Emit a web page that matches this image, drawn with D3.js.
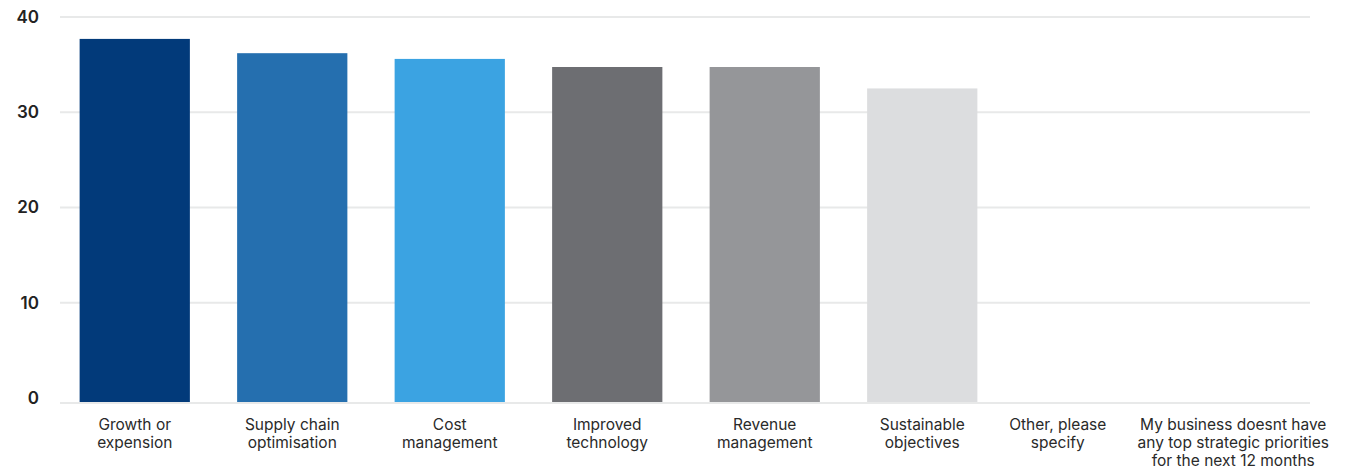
<!DOCTYPE html>
<html>
<head>
<meta charset="utf-8">
<script src="https://cdn.jsdelivr.net/npm/d3@7"></script>
<style>
  body { margin: 0; background: #fff; }
  svg { display: block; font-family: Inter, 'Open Sans', sans-serif; }
</style>
</head>
<body>
<div id="chart"></div>
<script>
const categories = [
  ['Growth or', 'expension'],
  ['Supply chain', 'optimisation'],
  ['Cost', 'management'],
  ['Improved', 'technology'],
  ['Revenue', 'management'],
  ['Sustainable', 'objectives'],
  ['Other, please', 'specify'],
  ['My business doesnt have', 'any top strategic priorities', 'for the next 12 months']
];
const values = [37.7, 36.2, 35.6, 34.75, 34.75, 32.5, 0, 0];
const barColors = ['#023a7a', '#256faf', '#3ba3e2', '#6d6e72', '#959699', '#dcdddf', '#dcdddf', '#dcdddf'];
const yTicks = [0, 10, 20, 30, 40];

const width = 1357, height = 470;

const svg = d3.select('#chart').append('svg')
  .attr('width', width)
  .attr('height', height);

const x = d3.scaleBand()
  .domain(d3.range(categories.length))
  .range([56, 1316])
  .paddingInner(0.3)
  .paddingOuter(0.15);

const y = d3.scaleLinear()
  .domain([0, 40])
  .range([398, 17]);

// gridlines
svg.append('g')
  .selectAll('line')
  .data(yTicks.filter(d => d > 0))
  .enter()
  .append('line')
  .attr('x1', 60)
  .attr('x2', 1310)
  .attr('y1', d => y(d))
  .attr('y2', d => y(d))
  .style('stroke', '#e8e9e9')
  .style('stroke-width', 2);

// bars
svg.append('g')
  .selectAll('rect')
  .data(values)
  .enter()
  .append('rect')
  .attr('x', (d, i) => x(i))
  .attr('width', x.bandwidth())
  .attr('y', d => y(d))
  .attr('height', d => d > 0 ? y(0) - y(d) + 4 : 0)
  .style('fill', (d, i) => barColors[i]);

// baseline
svg.append('line')
  .attr('x1', 60)
  .attr('x2', 1310)
  .attr('y1', y(0) + 5)
  .attr('y2', y(0) + 5)
  .style('stroke', '#e8e9e9')
  .style('stroke-width', 2);

// y labels
svg.append('g')
  .selectAll('text')
  .data(yTicks)
  .enter()
  .append('text')
  .attr('x', 39)
  .attr('y', d => y(d))
  .attr('dy', '0.35em')
  .attr('text-anchor', 'end')
  .style('font-size', '17px')
  .style('font-weight', 600)
  .style('fill', '#222')
  .text(d => d);

// category labels (the last two sit a little left of their band centre)
const labelShift = i => (i === 6 ? -22 : i === 7 ? -4 : 0);

const labels = svg.append('g')
  .selectAll('text')
  .data(categories)
  .enter()
  .append('text')
  .attr('text-anchor', 'middle')
  .attr('x', (d, i) => x(i) + x.bandwidth() / 2 + labelShift(i))
  .attr('y', 430)
  .style('font-size', '15.5px')
  .style('fill', '#2a2a2a');

labels.selectAll('tspan')
  .data(d => d)
  .enter()
  .append('tspan')
  .attr('x', function () { return d3.select(this.parentNode).attr('x'); })
  .attr('dy', (d, i) => i === 0 ? 0 : 18)
  .text(d => d);
</script>
</body>
</html>
